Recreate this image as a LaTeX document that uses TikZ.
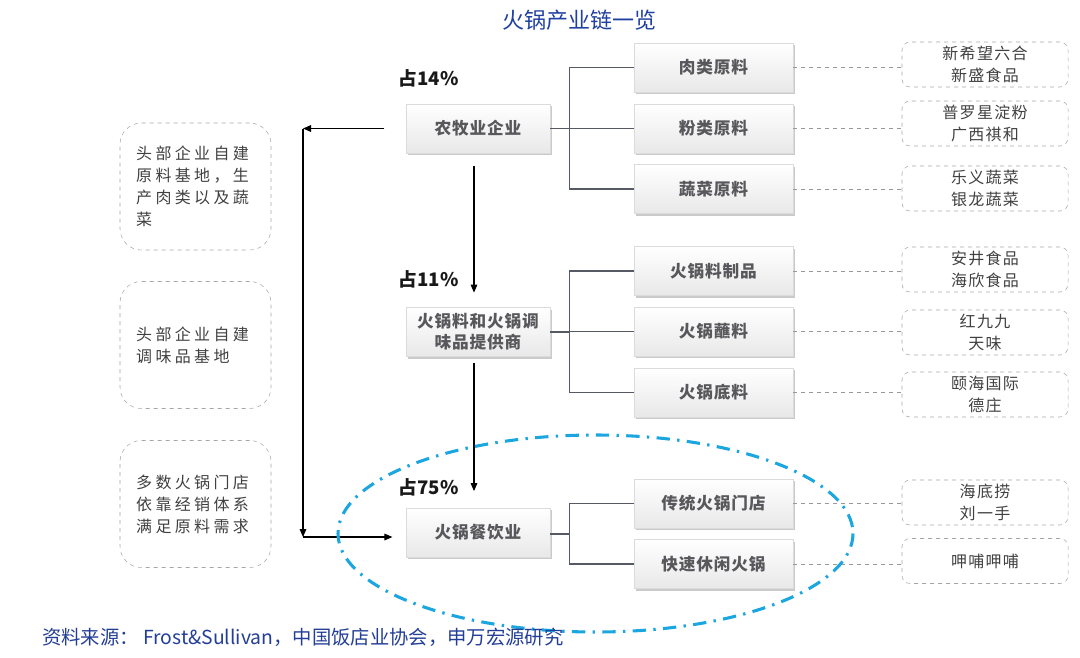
\documentclass[tikz,border=0pt]{standalone}
\usepackage{fontspec}
\setmainfont{Noto Sans CJK SC}
\newfontfamily\lsLeft[LetterSpace=21]{Noto Sans CJK SC}
\newfontfamily\lsRight[LetterSpace=8]{Noto Sans CJK SC}
\newfontfamily\lsMain[LetterSpace=5]{Noto Sans CJK SC}
\usetikzlibrary{shadows,arrows.meta}
\definecolor{titleblue}{RGB}{32,64,160}
\definecolor{srcblue}{RGB}{35,62,150}
\definecolor{cyanring}{RGB}{27,166,224}
\definecolor{boxtext}{RGB}{88,88,92}
\definecolor{conncol}{RGB}{85,90,100}
\begin{document}
\begin{tikzpicture}[x=0.75pt,y=-0.75pt,
  mainbox/.style={draw=black!14, top color=white, bottom color=black!9,
    drop shadow={shadow xshift=1.2pt, shadow yshift=-1.8pt, opacity=0.35, fill=black!60},
    minimum width=108pt, minimum height=36.75pt, inner sep=0pt, align=center,
    font=\lsMain\bfseries\fontsize{12.5pt}{15.75pt}\selectfont, text=boxtext},
  subbox/.style={mainbox, minimum width=119.25pt},
  rightbox/.style={draw=black!35, dashed, rounded corners=6pt, minimum width=124.5pt,
    minimum height=33.75pt, inner sep=0pt, align=center,
    font=\lsRight\fontsize{12pt}{16.5pt}\selectfont, text=black!75},
  leftbox/.style={draw=black!35, dashed, rounded corners=16pt, minimum width=113.25pt,
    minimum height=95.25pt, inner sep=0pt, text width=89pt, align=left,
    font=\lsLeft\fontsize{12pt}{16.5pt}\selectfont, text=black!75},
  pct/.style={font=\bfseries\fontsize{14pt}{16pt}\selectfont, text=black!90, inner sep=0pt},
  arr/.style={draw=black, line width=0.8pt, -{Triangle[length=6pt,width=5pt]}},
  conn/.style={draw=conncol, line width=1pt},
  dconn/.style={draw=black!40, dashed, line width=0.6pt}
]
\useasboundingbox (0,0) rectangle (1080,657);

% title
\node[text=titleblue, font=\fontsize{16.5pt}{19pt}\selectfont, inner sep=0pt] (title) at (579,20) {火锅产业链一览};

% main boxes
\node[mainbox] (nm) at (478,128.5) {农牧业企业};
\node[mainbox] (prov) at (478,332) {火锅料和火锅调\\味品提供商};
\node[mainbox] (rest) at (478,532.5) {火锅餐饮业};

% percentage labels
\node[pct] (p1) at (428.5,78) {占14\%};
\node[pct] (p2) at (428.5,279) {占11\%};
\node[pct] (p3) at (428.5,487) {占75\%};

% sub boxes
\node[subbox] (s1) at (713.5,67.5) {肉类原料};
\node[subbox] (s2) at (713.5,128.5) {粉类原料};
\node[subbox] (s3) at (713.5,189) {蔬菜原料};
\node[subbox] (s4) at (713.5,271) {火锅料制品};
\node[subbox] (s5) at (713.5,331.5) {火锅蘸料};
\node[subbox] (s6) at (713.5,392.5) {火锅底料};
\node[subbox] (s7) at (713.5,503.5) {传统火锅门店};
\node[subbox] (s8) at (713.5,564) {快速休闲火锅};

% right boxes
\node[rightbox] (r1) at (985,64.5) {新希望六合\\新盛食品};
\node[rightbox] (r2) at (985,123.5) {普罗星淀粉\\广西祺和};
\node[rightbox] (r3) at (985,188.5) {乐义蔬菜\\银龙蔬菜};
\node[rightbox] (r4) at (985,269.5) {安井食品\\海欣食品};
\node[rightbox] (r5) at (985,332.5) {红九九\\天味};
\node[rightbox] (r6) at (985,394.5) {颐海国际\\德庄};
\node[rightbox] (r7) at (985,502.5) {海底捞\\刘一手};
\node[rightbox] (r8) at (985,561) {呷哺呷哺};

% left boxes
\node[leftbox] (l1) at (195.5,186.5) {头部企业自建\\原料基地，生\\产肉类以及蔬\\菜};
\node[leftbox] (l2) at (195.5,345) {头部企业自建\\调味品基地};
\node[leftbox] (l3) at (195.5,504) {多数火锅门店\\依靠经销体系\\满足原料需求};

% tree connectors
\foreach \s in {s1,s2,s3} \draw[conn] (nm.east) -- ++(14.25pt,0) |- (\s.west);
\foreach \s in {s4,s5,s6} \draw[conn] (prov.east) -- ++(14.25pt,0) |- (\s.west);
\foreach \s in {s7,s8} \draw[conn] ([yshift=-1.2pt]rest.east) -- ++(14.25pt,0) |- (\s.west);

% dashed connectors
\foreach \s/\r in {s1/r1,s2/r2,s3/r3,s4/r4,s5/r5,s6/r6,s7/r7,s8/r8}
  \draw[dconn] (\s.east) -- (\s.east -| \r.west);

% vertical flow arrows
\draw[arr, shorten <=9.5pt, shorten >=11pt] ([xshift=-3pt]nm.south) -- ([xshift=-3pt]prov.north);
\draw[arr, shorten <=5pt, shorten >=12.5pt] ([xshift=-3pt]prov.south) -- ([xshift=-3pt]rest.north);

% left bracket
\coordinate (cTop) at (303,128.5);
\coordinate (cBot) at (303,537);
\draw[arr, shorten <=16pt] (nm.west) -- (cTop);
\draw[arr] (cTop) -- (cBot);
\draw[arr, shorten >=10pt] (cBot) -- (cBot -| rest.west);

% dash-dot ellipse
\draw[cyanring, line width=2.3pt, dash pattern=on 10pt off 5.5pt on 1.8pt off 5.5pt]
  (595.5,533.5) ellipse [x radius=257.5, y radius=98.5];

% source
\node[anchor=west, text=srcblue, font=\fontsize{14.5pt}{16pt}\selectfont, inner sep=0pt] (src) at (42,637)
  {资料来源： Frost\&Sullivan，中国饭店业协会，申万宏源研究};
\end{tikzpicture}
\end{document}
